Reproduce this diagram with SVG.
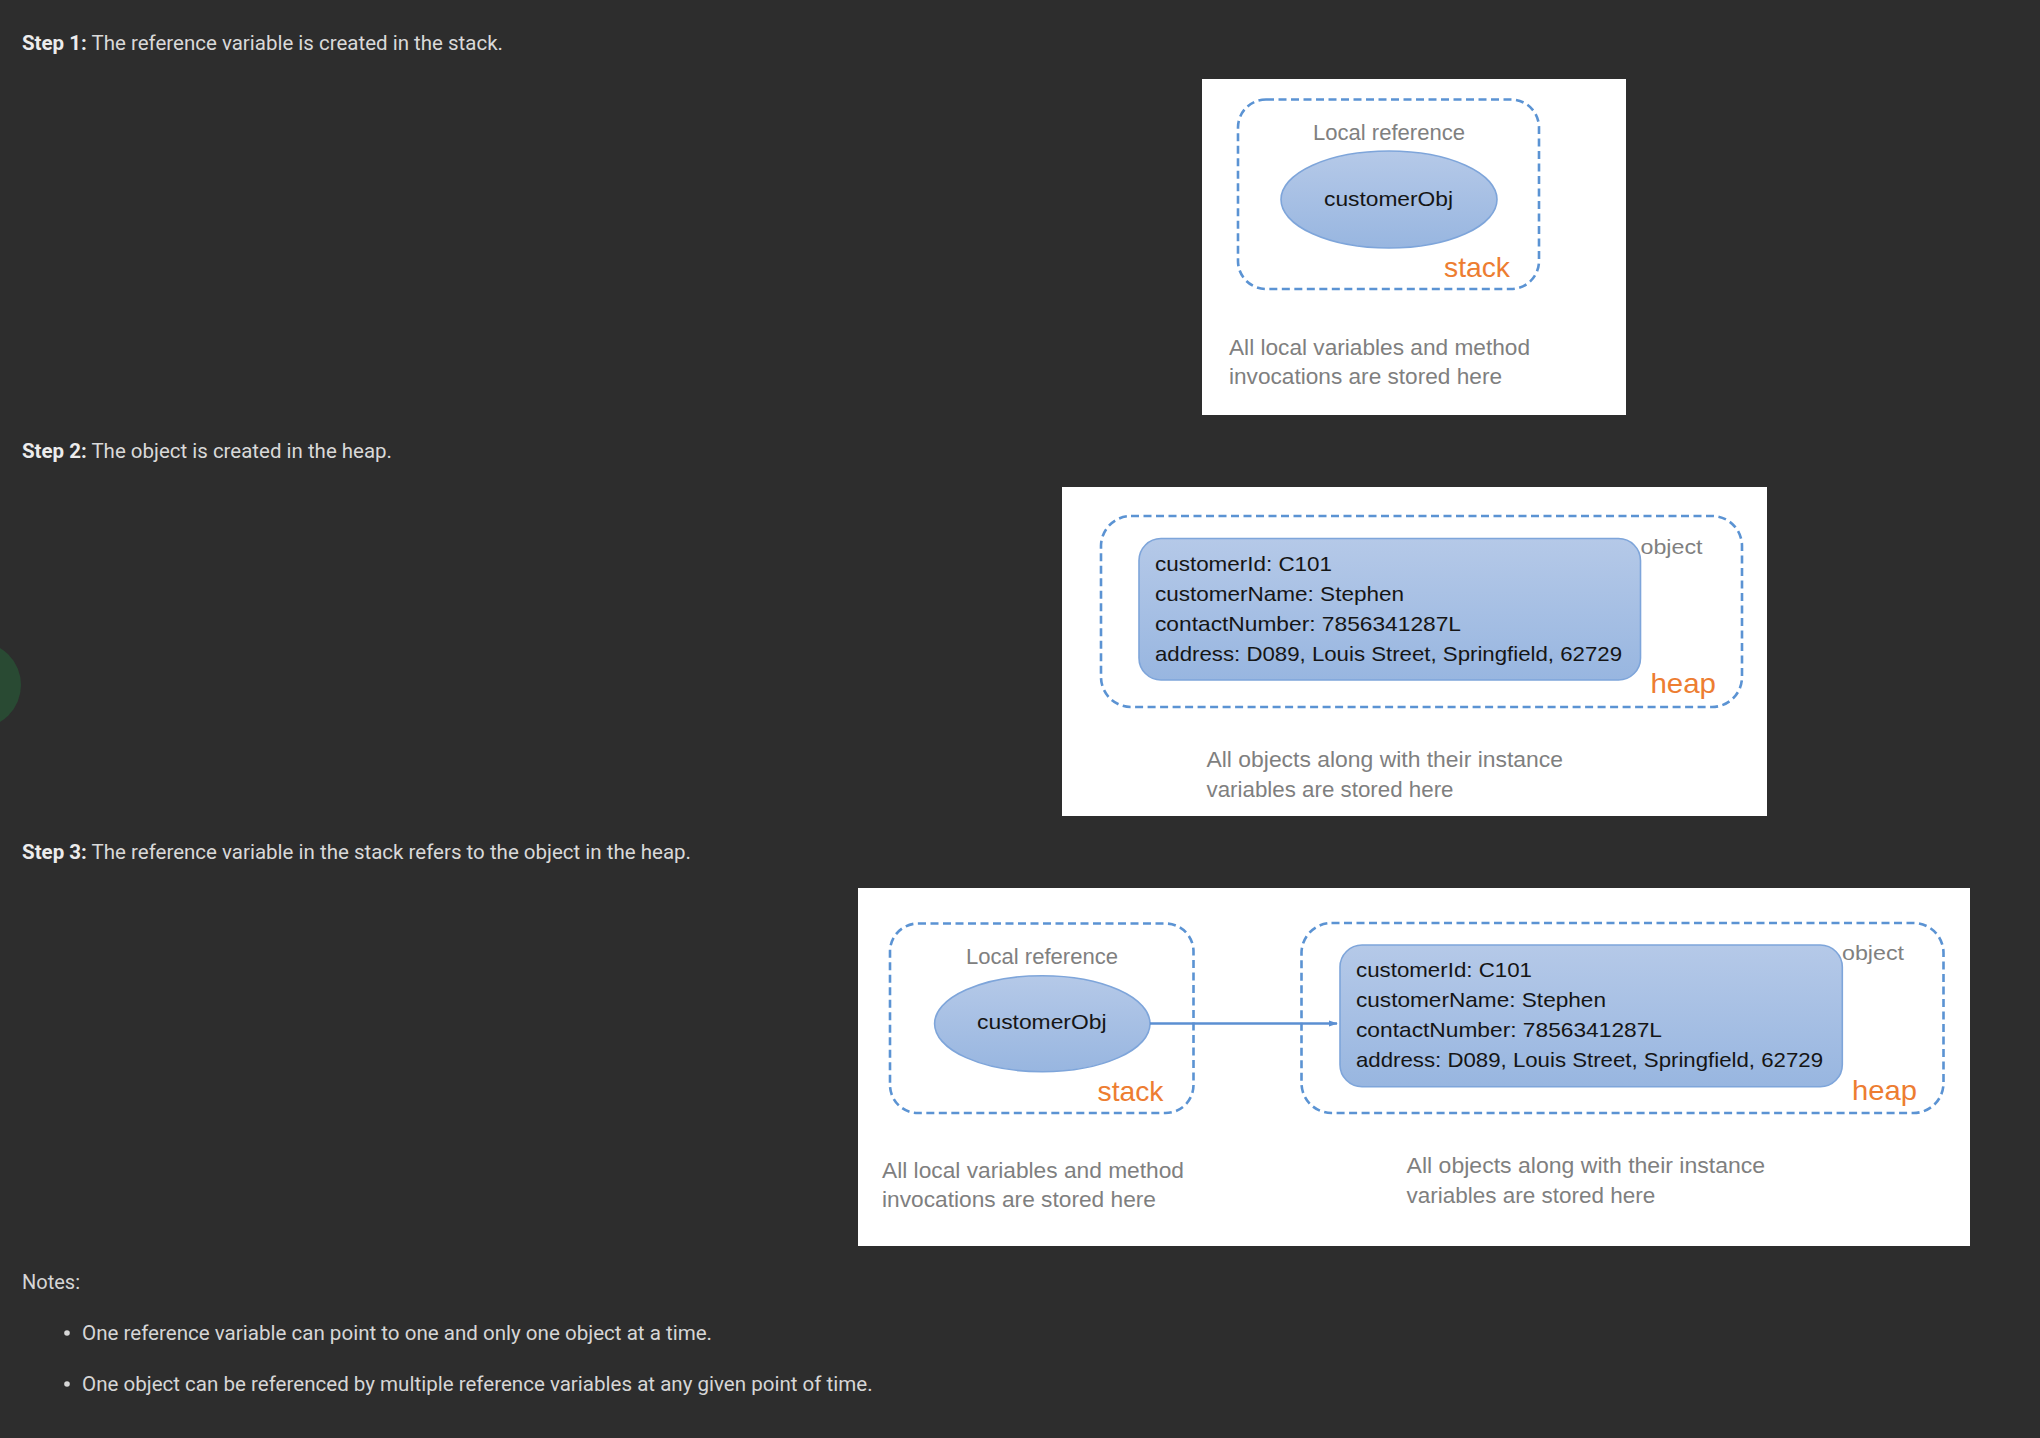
<svg xmlns="http://www.w3.org/2000/svg" width="2040" height="1438" viewBox="0 0 2040 1438">
<defs>
<linearGradient id="blueFill" x1="0" y1="0" x2="0" y2="1">
<stop offset="0" stop-color="#b5c9e8"/>
<stop offset="1" stop-color="#98b6e0"/>
</linearGradient>
<marker id="arrow" viewBox="0 0 10 10" refX="9" refY="5" markerWidth="9" markerHeight="9" markerUnits="userSpaceOnUse" orient="auto">
<path d="M0,1.5 L10,5 L0,8.5 z" fill="#5b8fd2"/>
</marker>
<style>
.page{fill:#2d2d2d}
.step{font-family:Roboto,"Liberation Sans",sans-serif;font-size:20px;fill:#d9d9d9}
.step .b{font-weight:bold;fill:#ececec}
.note{font-family:Roboto,"Liberation Sans",sans-serif;font-size:20px;fill:#d6d6d6}
.panel{fill:#ffffff}
.dash{fill:none;stroke:#5b93d3;stroke-width:2.6;stroke-dasharray:8 4.5}
.shape{fill:url(#blueFill);stroke:#7ea5da;stroke-width:1.6}
.lbl{font-family:"Liberation Sans",Arial,sans-serif;fill:#808080}
.inner{font-family:"Liberation Sans",Arial,sans-serif;font-size:21px;fill:#151515}
.orange{font-family:"Liberation Sans",Arial,sans-serif;font-size:28px;fill:#ed7d31}
.cap{font-family:"Liberation Sans",Arial,sans-serif;font-size:22px;fill:#7f7f7f}
.conn{fill:none;stroke:#5b8fd2;stroke-width:2.4}
</style>
</defs>
<rect class="page" x="0" y="0" width="2040" height="1438"/>
<circle cx="-22" cy="685" r="43" fill="#294a33"/>

<g id="step1-text">
<text class="step" x="22" y="50" textLength="481" lengthAdjust="spacingAndGlyphs"><tspan class="b">Step 1:</tspan> The reference variable is created in the stack.</text>
</g>

<g id="panel1">
<rect class="panel" x="1202" y="79" width="424" height="336"/>
<g id="p1-stack">
<rect class="dash" x="1238" y="99.5" width="301" height="189.5" rx="28"/>
<text class="lbl" x="1313" y="140" font-size="22" textLength="152" lengthAdjust="spacingAndGlyphs">Local reference</text>
<text class="orange" x="1444" y="277" textLength="66" lengthAdjust="spacingAndGlyphs">stack</text>
</g>
<g id="p1-ref">
<ellipse class="shape" cx="1389" cy="199.5" rx="108" ry="48.5"/>
<text class="inner" x="1324" y="206" textLength="129" lengthAdjust="spacingAndGlyphs">customerObj</text>
</g>
<text class="cap" x="1229" y="355" textLength="301" lengthAdjust="spacingAndGlyphs">All local variables and method</text>
<text class="cap" x="1229" y="384" textLength="273" lengthAdjust="spacingAndGlyphs">invocations are stored here</text>
</g>

<g id="step2-text">
<text class="step" x="22" y="458" textLength="370" lengthAdjust="spacingAndGlyphs"><tspan class="b">Step 2:</tspan> The object is created in the heap.</text>
</g>

<g id="panel2">
<rect class="panel" x="1062" y="487" width="705" height="329"/>
<g id="p2-heap">
<rect class="dash" x="1101" y="516" width="641" height="191" rx="30"/>
<text class="lbl" x="1640.5" y="554" font-size="21" textLength="62" lengthAdjust="spacingAndGlyphs">object</text>
<text class="orange" x="1650.5" y="693" textLength="65.5" lengthAdjust="spacingAndGlyphs">heap</text>
</g>
<g id="p2-object">
<rect class="shape" x="1139" y="538.5" width="501.5" height="141.5" rx="22"/>
<text class="inner" x="1155" y="570.7" textLength="177" lengthAdjust="spacingAndGlyphs">customerId: C101</text>
<text class="inner" x="1155" y="600.7" textLength="249" lengthAdjust="spacingAndGlyphs">customerName: Stephen</text>
<text class="inner" x="1155" y="630.7" textLength="306" lengthAdjust="spacingAndGlyphs">contactNumber: 7856341287L</text>
<text class="inner" x="1155" y="660.7" textLength="467" lengthAdjust="spacingAndGlyphs">address: D089, Louis Street, Springfield, 62729</text>
</g>
<text class="cap" x="1206.5" y="767" textLength="356.5" lengthAdjust="spacingAndGlyphs">All objects along with their instance</text>
<text class="cap" x="1206.5" y="796.7" textLength="247" lengthAdjust="spacingAndGlyphs">variables are stored here</text>
</g>

<g id="step3-text">
<text class="step" x="22" y="859" textLength="669" lengthAdjust="spacingAndGlyphs"><tspan class="b">Step 3:</tspan> The reference variable in the stack refers to the object in the heap.</text>
</g>

<g id="panel3">
<rect class="panel" x="858" y="888" width="1112" height="358"/>
<g id="p3-stack">
<rect class="dash" x="890" y="923.5" width="303.5" height="189.5" rx="28"/>
<text class="lbl" x="966" y="964" font-size="22" textLength="152" lengthAdjust="spacingAndGlyphs">Local reference</text>
<text class="orange" x="1097.5" y="1100.7" textLength="66" lengthAdjust="spacingAndGlyphs">stack</text>
</g>
<g id="p3-ref">
<ellipse class="shape" cx="1042.3" cy="1023.7" rx="107.7" ry="48"/>
<text class="inner" x="977" y="1029.3" textLength="129.5" lengthAdjust="spacingAndGlyphs">customerObj</text>
</g>
<g id="p3-heap">
<rect class="dash" x="1301.5" y="923" width="642" height="190" rx="30"/>
<text class="lbl" x="1842" y="960" font-size="21" textLength="62" lengthAdjust="spacingAndGlyphs">object</text>
<text class="orange" x="1852" y="1100" textLength="65" lengthAdjust="spacingAndGlyphs">heap</text>
</g>
<g id="p3-object">
<rect class="shape" x="1340" y="945" width="502.3" height="141.7" rx="22"/>
<text class="inner" x="1356" y="976.7" textLength="176" lengthAdjust="spacingAndGlyphs">customerId: C101</text>
<text class="inner" x="1356" y="1006.7" textLength="250" lengthAdjust="spacingAndGlyphs">customerName: Stephen</text>
<text class="inner" x="1356" y="1036.7" textLength="306" lengthAdjust="spacingAndGlyphs">contactNumber: 7856341287L</text>
<text class="inner" x="1356" y="1066.7" textLength="467" lengthAdjust="spacingAndGlyphs">address: D089, Louis Street, Springfield, 62729</text>
</g>
<text class="cap" x="882" y="1177.7" textLength="302" lengthAdjust="spacingAndGlyphs">All local variables and method</text>
<text class="cap" x="882" y="1207.3" textLength="274" lengthAdjust="spacingAndGlyphs">invocations are stored here</text>
<text class="cap" x="1406.6" y="1173.3" textLength="358.6" lengthAdjust="spacingAndGlyphs">All objects along with their instance</text>
<text class="cap" x="1406.6" y="1202.7" textLength="248.6" lengthAdjust="spacingAndGlyphs">variables are stored here</text>
</g>

<g id="connectors">
<line class="conn" x1="1150" y1="1023.5" x2="1337" y2="1023.5" marker-end="url(#arrow)"/>
</g>

<g id="notes">
<text class="note" x="22" y="1289" textLength="58" lengthAdjust="spacingAndGlyphs">Notes:</text>
<circle cx="67" cy="1333" r="2.8" fill="#d6d6d6"/>
<text class="note" x="82" y="1340" textLength="630" lengthAdjust="spacingAndGlyphs">One reference variable can point to one and only one object at a time.</text>
<circle cx="67" cy="1384" r="2.8" fill="#d6d6d6"/>
<text class="note" x="82" y="1390.7" textLength="790.6" lengthAdjust="spacingAndGlyphs">One object can be referenced by multiple reference variables at any given point of time.</text>
</g>
</svg>
